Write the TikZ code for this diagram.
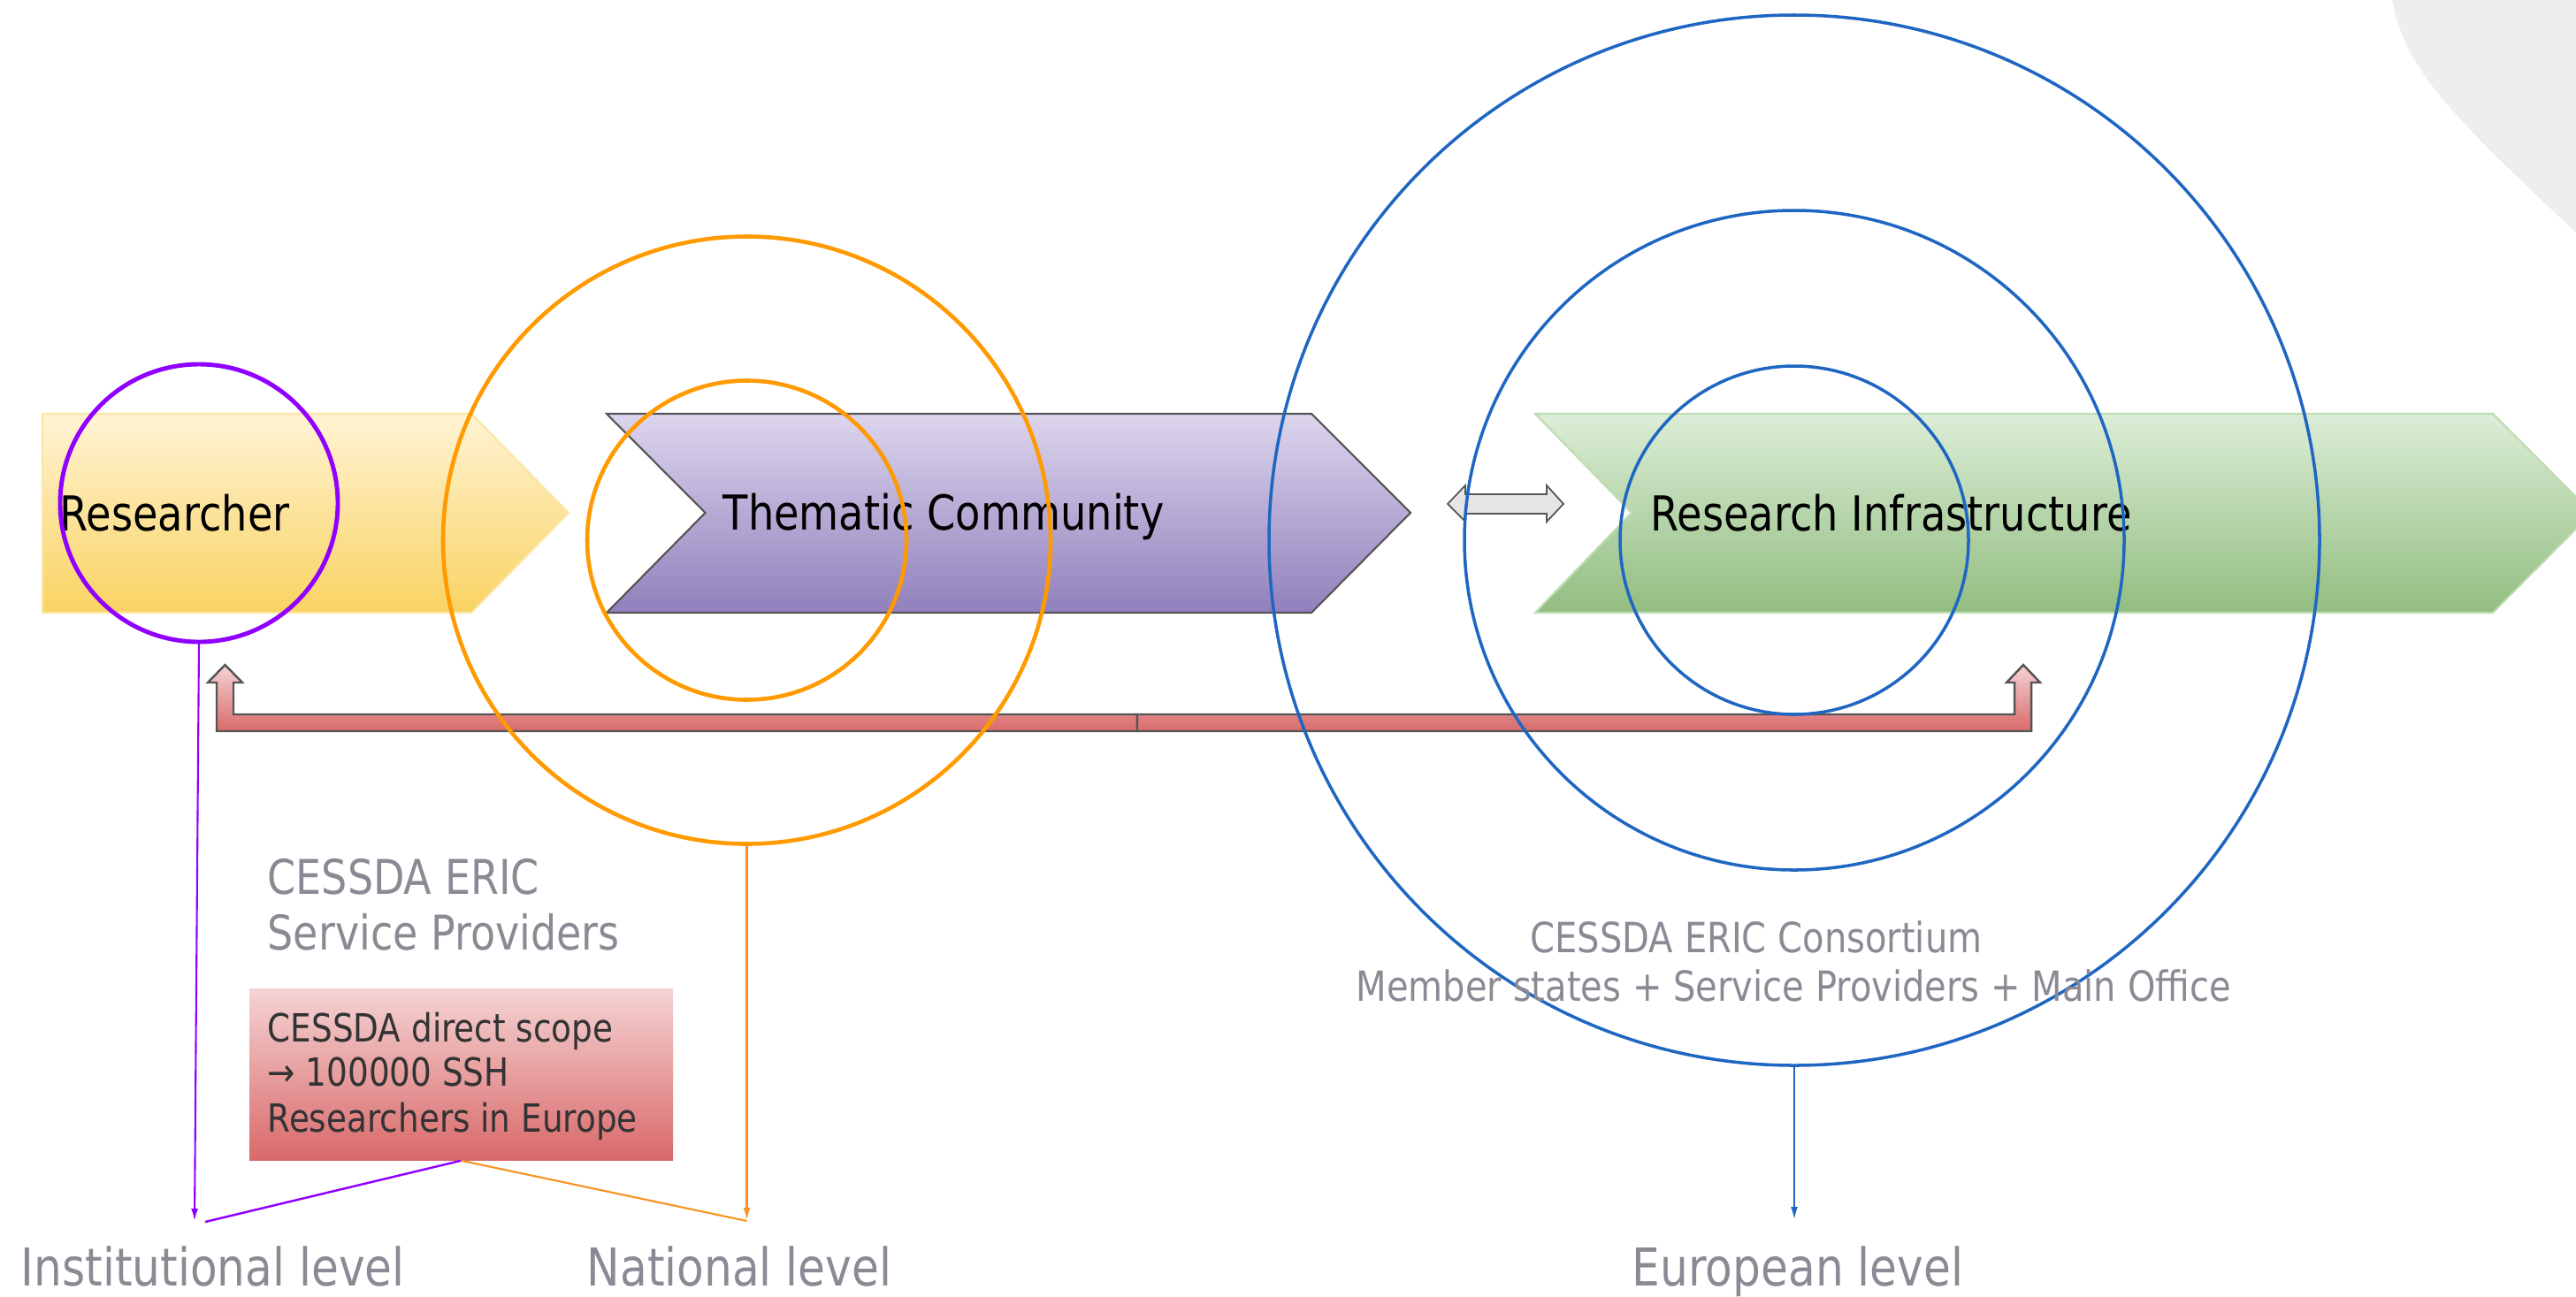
\documentclass[tikz,border=0pt]{standalone}
\usepackage{fontspec}
\setmainfont{DejaVu Sans}[FakeStretch=0.85]
\usetikzlibrary{arrows.meta}
\definecolor{ylwtop}{HTML}{FFF3D4}
\definecolor{ylwbot}{HTML}{F9D362}
\definecolor{ylwbrd}{HTML}{FCE6A6}
\definecolor{prptop}{HTML}{DDD5ED}
\definecolor{prpbot}{HTML}{9080BC}
\definecolor{grntop}{HTML}{DCEDD7}
\definecolor{grnbot}{HTML}{92BD80}
\definecolor{grnbrd}{HTML}{BEDDB2}
\definecolor{redtop}{HTML}{F5D3D3}
\definecolor{redbot}{HTML}{D9696A}
\definecolor{brd}{HTML}{555555}
\definecolor{violetc}{HTML}{9000FF}
\definecolor{orangec}{HTML}{FF9A00}
\definecolor{orangel}{HTML}{F7931E}
\definecolor{bluec}{HTML}{1F66C2}
\definecolor{txtgray}{HTML}{8A8A94}
\definecolor{boxtxt}{HTML}{333333}
\definecolor{blobgray}{HTML}{EEEEEE}
\tikzset{
  lbl/.style={anchor=base west, inner sep=0pt, text=black, font=\fontsize{15.5}{18}\selectfont},
  graybig/.style={anchor=base west, inner sep=0pt, text=txtgray, font=\fontsize{15.4}{18}\selectfont},
  graymid/.style={anchor=base west, inner sep=0pt, text=txtgray, font=\fontsize{13.4}{16}\selectfont},
  levellbl/.style={anchor=base west, inner sep=0pt, text=txtgray, font=\fontsize{16.8}{19}\selectfont},
  boxline/.style={anchor=base west, inner sep=0pt, text=boxtxt, font=\fontsize{12.5}{15}\selectfont},
  ring/.style={circle, draw, inner sep=0pt, outer sep=0pt},
  scopebox/.style={rectangle, inner sep=0pt, minimum width=4.79cm, minimum height=1.94cm, top color=redtop, bottom color=redbot},
  tip/.style={-{Latex[length=0.14cm,width=0.08cm]}},
}
\begin{document}
\begin{tikzpicture}[x=1cm,y=-1cm]
\useasboundingbox (0,0) rectangle (29.13,14.66);
\clip (0,0) rectangle (29.13,14.66);
% background blob
\fill[blobgray] (27.05,0) .. controls (27.2,0.75) and (27.6,1.2) .. (29.13,2.63) -- (29.13,0) -- cycle;
% chevrons
\shade[top color=ylwtop, bottom color=ylwbot, draw=ylwbrd, line width=0.6pt]
  (0.48,4.68) -- (5.33,4.68) -- (6.43,5.80) -- (5.33,6.93) -- (0.48,6.93) -- cycle;
\shade[top color=prptop, bottom color=prpbot, draw=brd, line width=0.6pt]
  (6.86,4.68) -- (14.83,4.68) -- (15.95,5.80) -- (14.83,6.93) -- (6.86,6.93) -- (7.975,5.80) -- cycle;
\shade[top color=grntop, bottom color=grnbot, draw=grnbrd, line width=0.6pt]
  (17.36,4.68) -- (28.19,4.68) -- (29.31,5.80) -- (28.19,6.93) -- (17.36,6.93) -- (18.45,5.80) -- cycle;
% double arrow
\filldraw[fill=black!10, draw=brd, line width=0.5pt]
  (16.37,5.70) -- (16.57,5.49) -- (16.57,5.59) -- (17.49,5.59) -- (17.49,5.49) -- (17.68,5.70)
  -- (17.49,5.90) -- (17.49,5.81) -- (16.57,5.81) -- (16.57,5.90) -- cycle;
% chevron labels
\node[lbl] (researcher) at (0.67,6.00) {Researcher};
\node[lbl] (thematic) at (8.17,5.99) {Thematic Community};
\node[lbl] (infra) at (18.66,6.00) {Research Infrastructure};
% red bracket arrow
\shade[top color=redtop, bottom color=redbot, draw=brd, line width=0.7pt]
  (2.45,8.27) -- (2.45,7.72) -- (2.35,7.72) -- (2.545,7.52) -- (2.74,7.72) -- (2.64,7.72)
  -- (2.64,8.08) -- (12.86,8.08) -- (12.86,8.27) -- cycle;
\shade[top color=redtop, bottom color=redbot, draw=brd, line width=0.7pt]
  (22.97,8.27) -- (22.97,7.72) -- (23.07,7.72) -- (22.88,7.52) -- (22.69,7.72) -- (22.78,7.72)
  -- (22.78,8.08) -- (12.86,8.08) -- (12.86,8.27) -- cycle;
% circles
\node[ring, draw=violetc, line width=1.4pt, minimum size=3.14cm] (pc) at (2.25,5.69) {};
\node[ring, draw=orangec, line width=1.3pt, minimum size=6.87cm] (obig) at (8.445,6.11) {};
\node[ring, draw=orangec, line width=1.3pt, minimum size=3.61cm] (osmall) at (8.445,6.11) {};
\node[ring, draw=bluec, line width=1.0pt, minimum size=11.88cm] (bbig) at (20.29,6.11) {};
\node[ring, draw=bluec, line width=1.0pt, minimum size=7.46cm] (bmid) at (20.29,6.11) {};
\node[ring, draw=bluec, line width=1.0pt, minimum size=3.94cm] (bsmall) at (20.29,6.11) {};
% gray texts
\node[graybig] (sp1) at (3.02,10.11) {CESSDA ERIC};
\node[graybig] (sp2) at (3.02,10.74) {Service Providers};
\node[graymid] (cons1) at (17.30,10.77) {CESSDA ERIC Consortium};
\node[graymid] (cons2) at (15.33,11.32) {Member states + Service Providers + Main Office};
% scope box
\node[scopebox] (scope) at (5.215,12.15) {};
\node[boxline] (bl1) at (3.02,11.78) {CESSDA direct scope};
\node[boxline] (bl2) at (3.02,12.28) {→ 100000 SSH};
\node[boxline] (bl3) at (3.02,12.80) {Researchers in Europe};
% level labels
\node[levellbl] (inst) at (0.23,14.54) {Institutional level};
\node[levellbl] (nat) at (6.63,14.54) {National level};
\node[levellbl] (eur) at (18.45,14.54) {European level};
% connector ends
\coordinate (instTip) at (2.20,13.81);
\coordinate (instEnd) at (2.32,13.82);
\coordinate (natTip) at (8.445,13.80);
\coordinate (natEnd) at (8.445,13.81);
\coordinate (eurTip) at (20.29,13.79);
% connectors
\draw[violetc, line width=0.6pt, tip] (pc.south) -- (instTip);
\draw[violetc, line width=0.7pt] (scope.south) -- (instEnd);
\draw[orangel, line width=0.6pt, tip] (obig.south) -- (natTip);
\draw[orangel, line width=0.6pt] (scope.south) -- (natEnd);
\draw[bluec, line width=0.5pt, tip] (bbig.south) -- (eurTip);
\end{tikzpicture}
\end{document}
